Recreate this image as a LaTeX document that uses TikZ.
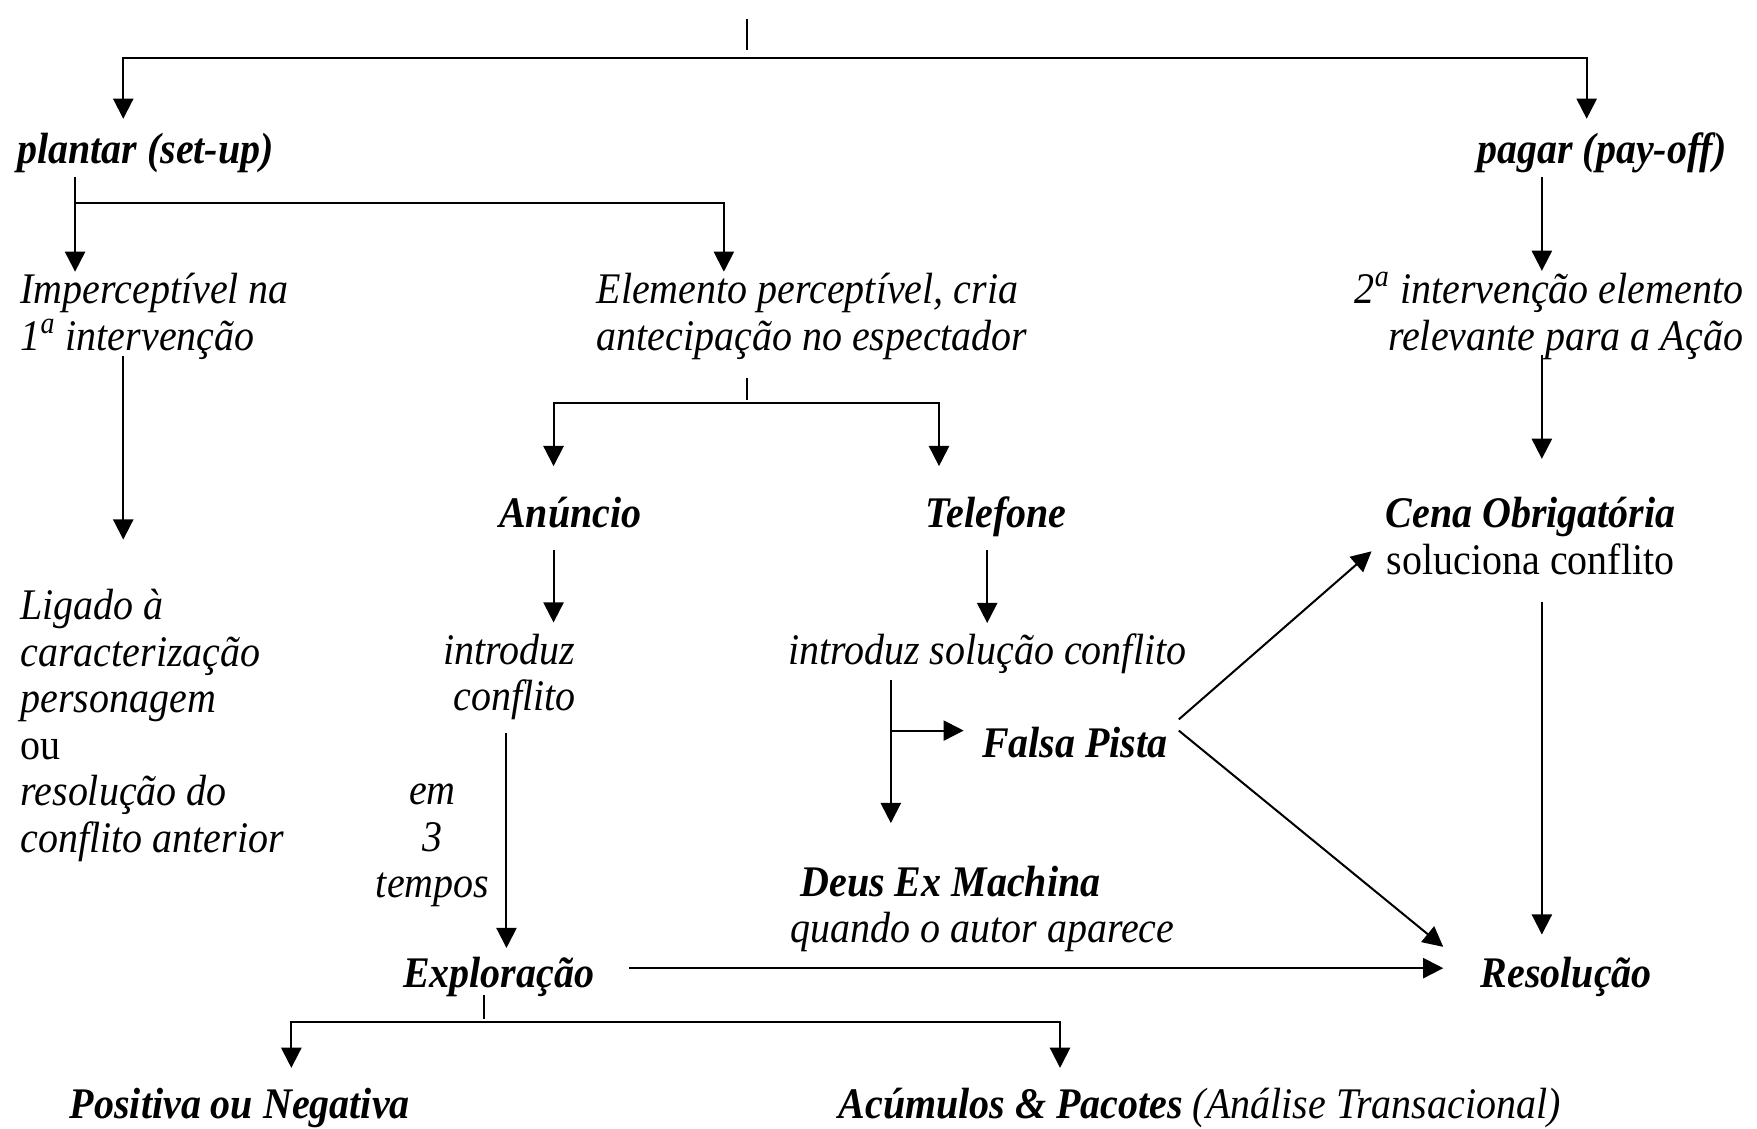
\documentclass[tikz,border=0pt]{standalone}
\usepackage{fontspec}
\setmainfont{Liberation Serif}[FakeStretch=0.915]
\usepackage{tikz}
\usetikzlibrary{arrows.meta,calc}

\begin{document}
\begin{tikzpicture}[x=0.5pt, y=-0.5pt,
		lbl/.style={inner sep=0pt, font=\fontsize{19.5}{20.75}\selectfont\itshape},
		key/.style={lbl, font=\fontsize{19.5}{20.75}\selectfont\bfseries\itshape},
		wire/.style={line width=0.9pt},
		arr/.style={wire, -{Triangle[length=9pt,width=9pt]}}]
		%%%%% START %%%%%
		
		\useasboundingbox (0,0) rectangle (1568,1007);
		
		% (multi-line nodes sit on the baseline of their last line)
		\node[key, anchor=base west] (plantar) at (15,146) {plantar (set-up)};
		\node[key, anchor=base east] (pagar) at (1541,146) {pagar (pay-off)};
		
		\node[lbl, anchor=base west, align=left] (imperc) at (18,312.5) {Imperceptível na\\1\textsuperscript{a} intervenção};
		\node[lbl, anchor=base west, align=left] (elemento) at (532,312.5) {Elemento perceptível, cria\\antecipação no espectador};
		\node[lbl, anchor=base east, align=right] (segunda) at (1556,312.5) {2\textsuperscript{a} intervenção elemento\\relevante para a Ação};
		
		\node[key, anchor=base] (anuncio) at (509,471) {Anúncio};
		\node[key, anchor=base] (telefone) at (889,471) {Telefone};
		\node[key, anchor=base, align=center] (cena) at (1366,512.5) {Cena Obrigatória\\{\mdseries\upshape soluciona conflito}};
		
		\node[lbl, anchor=base west, align=left] (ligado) at (18,760.5) {Ligado à\\caracterização\\personagem\\{\upshape ou}\\resolução do\\conflito anterior};
		\node[lbl, anchor=base east, align=right] (introd1) at (514,634.5) {introduz\\conflito};
		\node[lbl, anchor=base] (introd2) at (881,593) {introduz solução conflito};
		\node[key, anchor=base west] (falsa) at (876,676) {Falsa Pista};
		\node[lbl, anchor=base, align=center] (tempos) at (386,801) {em\\3\\tempos};
		\node[lbl, anchor=base west, align=left] (deus) at (705,841.5) {\hspace*{4.5pt}\textbf{Deus Ex Machina}\\quando o autor aparece};
		
		\node[key, anchor=base] (exploracao) at (445,881) {Exploração};
		\node[key, anchor=base west] (resolucao) at (1321,881) {Resolução};
		\node[key, anchor=base west] (positiva) at (62,998) {Positiva ou Negativa};
		\node[lbl, anchor=base west] (acumulos) at (748,998) {\textbf{Acúmulos \& Pacotes} (Análise Transacional)};
		
		% branch points
		\coordinate (root) at (667,17);
		\coordinate (jroot) at (667,52);
		\coordinate (jplant) at (67,181);
		\coordinate (jelem) at (667,360);
		\coordinate (jtele) at (795,652);
		\coordinate (jexpl) at (432,912);
		
		\draw[wire] (root) -- ++(0,28);
		\draw[arr, shorten >=20pt] (jroot) -| (plantar.base -| 110,0);
		\draw[arr, shorten >=20pt] (jroot) -| (pagar.base -| 1416,0);
		
		\draw[wire, shorten <=6pt] (plantar.base -| jplant) -- (jplant);
		\draw[arr, shorten >=0.5pt] (jplant) -- (imperc.north -| jplant);
		\draw[arr, shorten >=0.5pt] (jplant) -| (elemento.north -| 646,0);
		\draw[arr, shorten <=6pt, shorten >=0.5pt] (pagar.base -| 1376,0) -- (segunda.north -| 1376,0);
		
		\draw[arr, shorten <=2.75pt, shorten >=22pt] (imperc.base -| 110,0) -- (ligado.north -| 110,0);
		
		\draw[wire, shorten <=12.25pt, shorten >=1.5pt] (elemento.base -| jelem) -- (jelem);
		\draw[arr, shorten >=27.5pt] (jelem) -| (anuncio.base -| 494,0);
		\draw[arr, shorten >=27.5pt] (jelem) -| (telefone.base -| 838,0);
		
		\draw[arr, shorten <=10pt, shorten >=5pt] (anuncio.base -| 494,0) -- (introd1.north -| 494,0);
		\draw[arr, shorten <=10pt, shorten >=18.5pt] (telefone.base -| 881,0) -- (introd2.base -| 881,0);
		\draw[arr, shorten <=2.25pt, shorten >=17pt] (segunda.base -| 1376,0) -- (cena.north -| 1376,0);
		\draw[arr, shorten <=12.25pt, shorten >=23.5pt] (cena.base -| 1376,0) -- (resolucao.base -| 1376,0);
		
		\draw[arr, shorten <=7pt, shorten >=19pt] (introd2.base -| jtele) -- (deus.north -| jtele);
		\draw[arr, shorten >=8pt] (jtele) -- (jtele -| falsa.west);
		\draw[arr] ($(falsa.base west)+(176,-34)$) -- ($(cena.base)+(-142,-20.5)$);
		\draw[arr] ($(falsa.base west)+(176,-24)$) -- ($(resolucao.base west)+(-33,-36)$);
		
		\draw[arr, shorten <=9.75pt, shorten >=17.5pt] (introd1.base -| 452,0) -- (exploracao.base -| 452,0);
		\draw[arr, shorten <=15.5pt, shorten >=16.5pt] (exploracao.east |- 0,864) -- (resolucao.west |- 0,864);
		
		\draw[wire, shorten <=3.5pt, shorten >=1.5pt] (exploracao.base -| jexpl) -- (jexpl);
		\draw[arr, shorten >=22.5pt] (jexpl) -| (positiva.base -| 260,0);
		\draw[arr, shorten >=22.5pt] (jexpl) -| (acumulos.base -| 946,0);
		
		%%%%% END %%%%%
	\end{tikzpicture}
\end{document}
